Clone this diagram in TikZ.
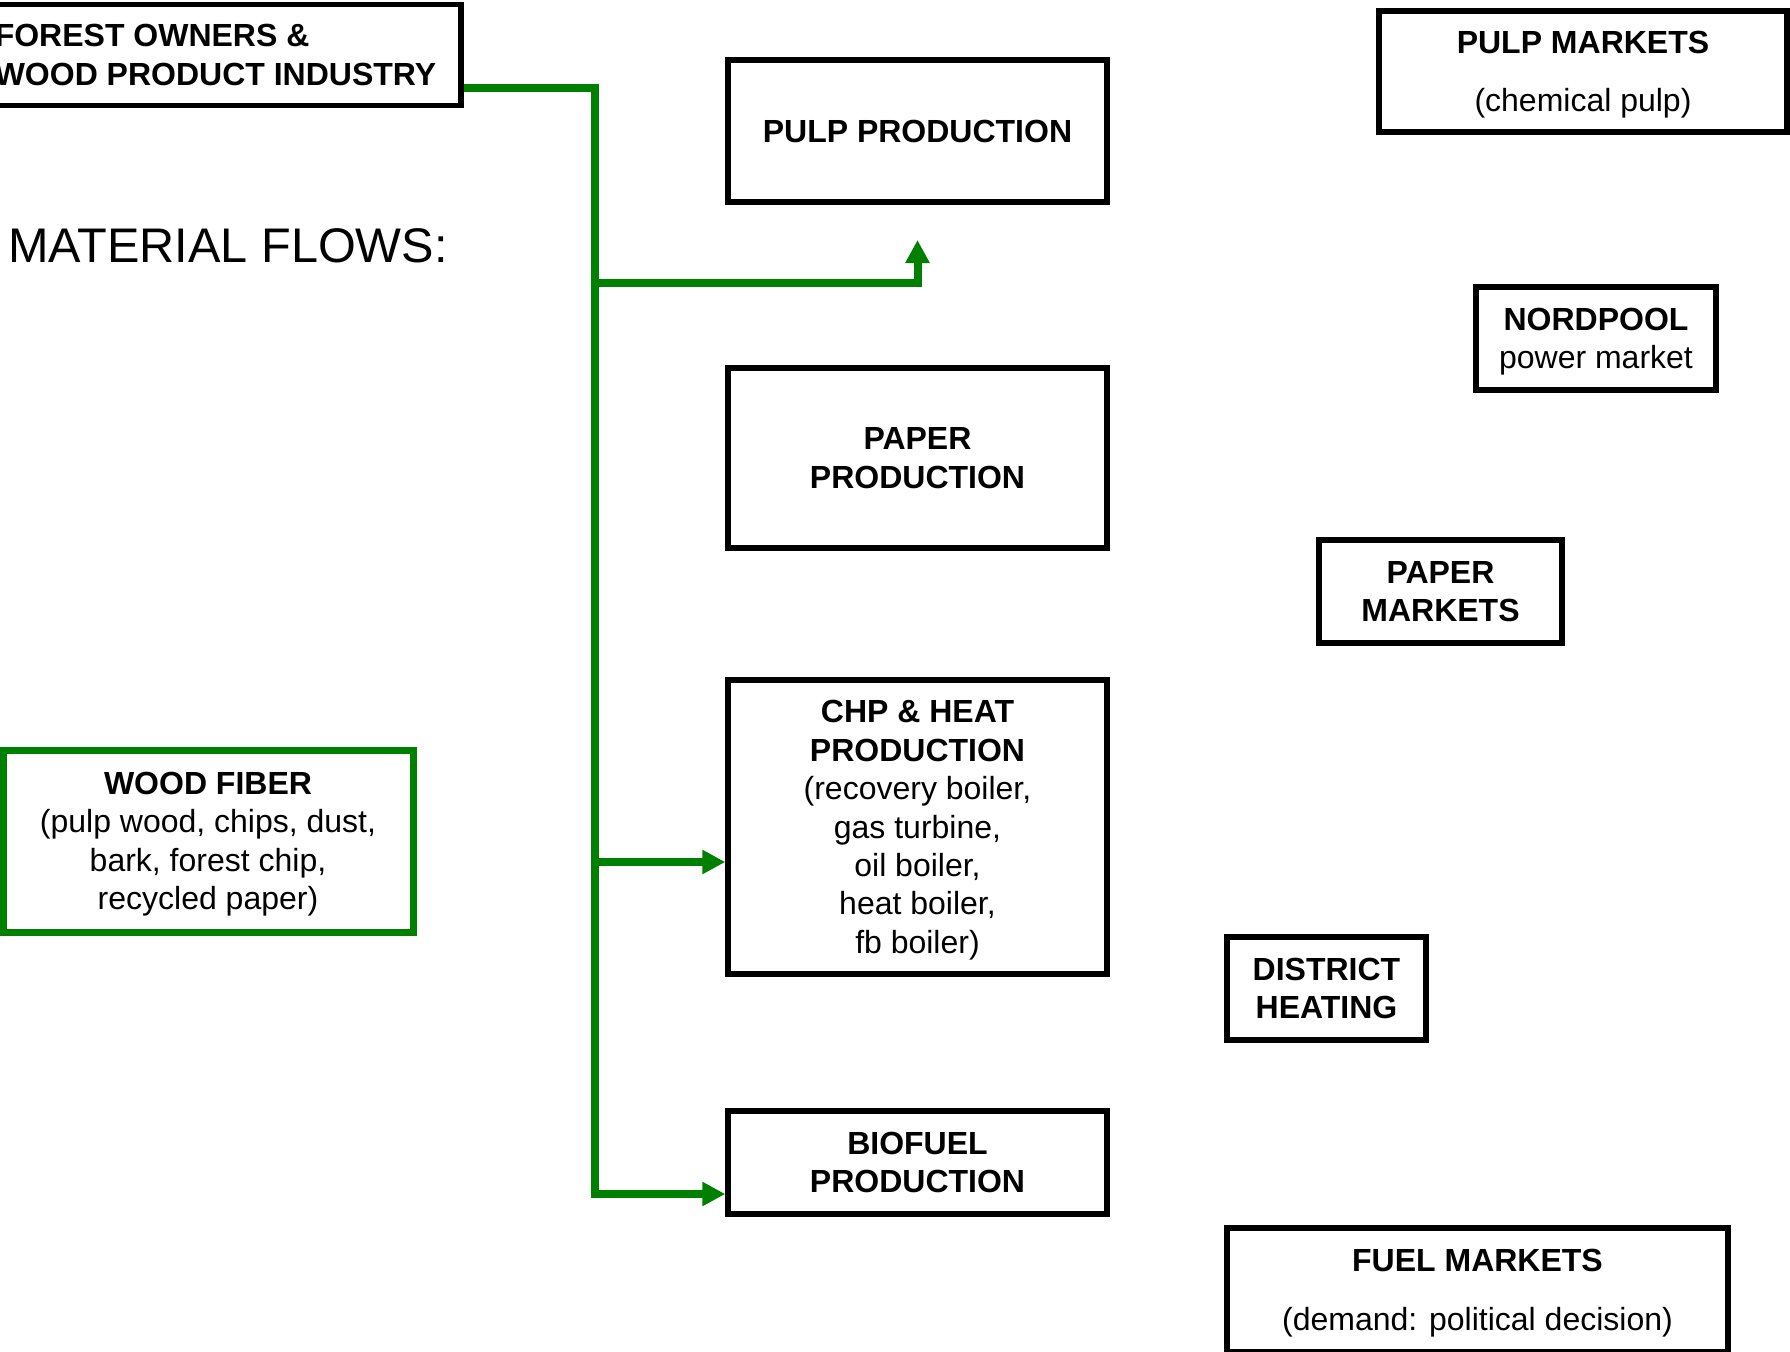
\documentclass[tikz,border=0pt]{standalone}
\usepackage{fontspec}
\setmainfont{Liberation Sans}
\usetikzlibrary{arrows.meta}
\definecolor{flowgreen}{RGB}{0,128,0}
\begin{document}
\begin{tikzpicture}[x=0.5pt,y=-0.5pt,
  box/.style={draw=black, line width=2.75pt, inner sep=0pt, align=center, fill=white, text depth=0pt, font=\fontsize{16}{19.2}\selectfont},
  greenbox/.style={box, draw=flowgreen, line width=3.5pt},
  flow/.style={draw=flowgreen, line width=4pt},
  flowtip/.style={-{Triangle[length=11.5pt,width=11.5pt]}}
]
\path[use as bounding box, clip] (0,0) rectangle (1790,1351);

% boxes
\node[box, align=left, minimum width=245.5pt, minimum height=50.5pt] (forest) at (215.5,55)
  {\textbf{FOREST OWNERS \&}\\\textbf{WOOD PRODUCT INDUSTRY}};
\node[box, minimum width=189.5pt, minimum height=71pt] (pulp) at (917.5,131)
  {\textbf{PULP PRODUCTION}};
\node[box, minimum width=189.5pt, minimum height=90pt] (paper) at (917.5,458)
  {\textbf{PAPER}\\\textbf{PRODUCTION}};
\node[box, minimum width=189.5pt, minimum height=147pt] (chp) at (917.5,827)
  {\textbf{CHP \& HEAT}\\\textbf{PRODUCTION}\\(recovery boiler,\\gas turbine,\\oil boiler,\\heat boiler,\\fb boiler)};
\node[box, minimum width=189.5pt, minimum height=51.5pt] (bio) at (917.5,1162.5)
  {\textbf{BIOFUEL}\\\textbf{PRODUCTION}};
\node[greenbox, minimum width=205pt, minimum height=91pt] (wood) at (208,841)
  {\textbf{WOOD FIBER}\\(pulp wood, chips, dust,\\bark, forest chip,\\recycled paper)};
\node[box, minimum width=204pt, minimum height=60.5pt] (pulpm) at (1583,71.5)
  {\textbf{PULP MARKETS}\\[10pt](chemical pulp)};
\node[box, minimum width=120pt, minimum height=51.5pt] (nord) at (1596,338.5)
  {\textbf{NORDPOOL}\\power market};
\node[box, minimum width=121.5pt, minimum height=51.5pt] (paperm) at (1440.5,591.5)
  {\textbf{PAPER}\\\textbf{MARKETS}};
\node[box, minimum width=99.5pt, minimum height=51.5pt] (dist) at (1326.5,988.5)
  {\textbf{DISTRICT}\\\textbf{HEATING}};
\node[box, minimum width=250.5pt, minimum height=62pt] (fuel) at (1477.5,1290)
  {\textbf{FUEL MARKETS}\\[10pt](demand: political decision)};

\node[anchor=base west, inner sep=0pt, font=\fontsize{24.3}{29}\selectfont] (mf) at (8,262) {MATERIAL FLOWS:};

% connectors
\coordinate (jtop) at (595,88);
\coordinate (jpulp) at (595,283);
\coordinate (jchp) at (595,862);
\coordinate (jbio) at (595,1194);
\coordinate (ptip) at (917.5,240);

\draw[flow, flowtip] (forest.east |- jtop) -- (jtop) -- (jbio) -- (bio.west |- jbio);
\draw[flow, flowtip] (jpulp) -| (ptip);
\draw[flow, flowtip] (jchp) -- (chp.west |- jchp);
\end{tikzpicture}
\end{document}
